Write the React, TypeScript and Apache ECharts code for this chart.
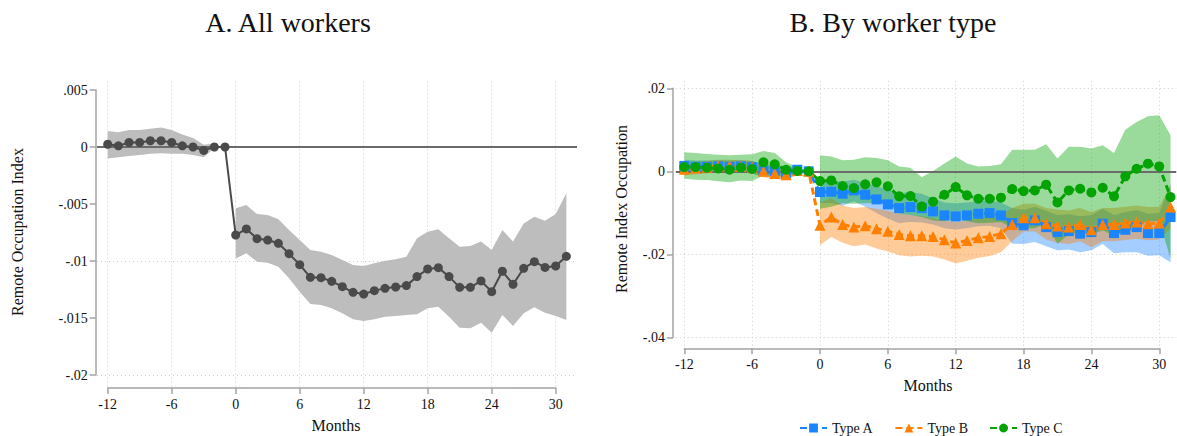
import React, { useEffect, useRef } from "react";
import * as echarts from "echarts";

// ---------- data ----------
const months = [-12, -11, -10, -9, -8, -7, -6, -5, -4, -3, -2, -1, 0, 1, 2, 3, 4, 5, 6, 7, 8, 9, 10, 11, 12, 13, 14, 15, 16, 17, 18, 19, 20, 21, 22, 23, 24, 25, 26, 27, 28, 29, 30, 31];

const xTicks = [-12, -6, 0, 6, 12, 18, 24, 30];
const yTicksA = [0.005, 0, -0.005, -0.01, -0.015, -0.02];
const yTicksB = [0.02, 0, -0.02, -0.04];

const allCoef = [0.00024, 0.0001, 0.0004, 0.0004, 0.00055, 0.00055, 0.0004, 0.0001, 0.0, -0.0003, 0.0, 0.0,
  -0.00772, -0.00719, -0.00804, -0.00816, -0.00845, -0.00936, -0.01032, -0.01143, -0.01146, -0.01178, -0.01225, -0.01275, -0.0129, -0.0126, -0.0124, -0.01228, -0.01216, -0.01137, -0.0107, -0.01059, -0.01137, -0.01231, -0.01231, -0.01175, -0.01269, -0.0109, -0.01205, -0.01064, -0.01006, -0.01056, -0.01044, -0.00959];
const allUpper = [0.0014, 0.0013, 0.0015, 0.0015, 0.0016, 0.0017, 0.0015, 0.0011, 0.0008, 0.0002, 0.0003, null,
  -0.00538, -0.00509, -0.00588, -0.00596, -0.00634, -0.00728, -0.00816, -0.00904, -0.00918, -0.00947, -0.00991, -0.01035, -0.01044, -0.0102, -0.00997, -0.00985, -0.00962, -0.00801, -0.00743, -0.00722, -0.00801, -0.00875, -0.00868, -0.0083, -0.00904, -0.00728, -0.0083, -0.0067, -0.00611, -0.00646, -0.00588, -0.00406];
const allLower = [-0.001, -0.0009, -0.0008, -0.0007, -0.0006, -0.00055, -0.0006, -0.0006, -0.0007, -0.0009, -0.0001, null,
  -0.00977, -0.00933, -0.01006, -0.01015, -0.0105, -0.01152, -0.01269, -0.01377, -0.01386, -0.01415, -0.01459, -0.01511, -0.01526, -0.01511, -0.01488, -0.01482, -0.01474, -0.01468, -0.01415, -0.01401, -0.01488, -0.01585, -0.0159, -0.01541, -0.01629, -0.01474, -0.0157, -0.01459, -0.01406, -0.01453, -0.01482, -0.01518];

const typeA = [0.0013, 0.0011, 0.0011, 0.0012, 0.0011, 0.0012, 0.001, 0.0002, 0.0, -0.0005, 0.0004, 0,
  -0.00498, -0.0049, -0.00538, -0.00458, -0.00562, -0.00675, -0.00795, -0.00884, -0.0086, -0.00884, -0.00964, -0.0106, -0.01084, -0.0106, -0.0102, -0.01004, -0.0106, -0.01245, -0.013, -0.0118, -0.01342, -0.01462, -0.01438, -0.015, -0.01462, -0.0126, -0.01486, -0.01406, -0.01342, -0.01486, -0.01486, -0.011];
const typeAUpper = [0.0028, 0.0026, 0.0026, 0.0027, 0.0026, 0.0027, 0.0025, 0.0017, 0.0015, 0.001, 0.0015, null,
  -0.0022, -0.0022, -0.0025, -0.002, -0.0028, -0.0035, -0.0045, -0.0052, -0.005, -0.0054, -0.0065, -0.0075, -0.0077, -0.0075, -0.0072, -0.007, -0.0075, -0.0088, -0.0093, -0.0085, -0.0095, -0.0105, -0.0103, -0.0108, -0.0105, -0.009, -0.0105, -0.0098, -0.0093, -0.0102, -0.01, -0.003];
const typeALower = [-0.0002, -0.0004, -0.0004, -0.0003, -0.0004, -0.0003, -0.0005, -0.0013, -0.0015, -0.002, -0.0007, null,
  -0.0077, -0.0076, -0.0083, -0.0072, -0.0085, -0.01, -0.0114, -0.0125, -0.0122, -0.0123, -0.0128, -0.0137, -0.014, -0.0137, -0.0132, -0.0131, -0.0137, -0.0174, -0.0175, -0.017, -0.018, -0.019, -0.0188, -0.0195, -0.019, -0.0175, -0.0197, -0.0195, -0.0195, -0.0203, -0.0202, -0.0219];

const typeB = [0.0005, 0.0008, 0.001, 0.0013, 0.0013, 0.0012, 0.001, 0.0, -0.0005, -0.0008, 0.0002, 0,
  -0.013, -0.011, -0.0128, -0.0134, -0.0131, -0.0138, -0.0144, -0.0152, -0.0155, -0.0155, -0.0157, -0.01646, -0.01727, -0.01663, -0.016, -0.0157, -0.015, -0.01277, -0.01116, -0.01116, -0.0126, -0.01318, -0.01342, -0.01277, -0.01406, -0.01277, -0.01277, -0.01245, -0.0122, -0.0126, -0.01245, -0.0086];
const typeBUpper = [0.002, 0.0023, 0.0025, 0.0028, 0.0028, 0.0027, 0.0025, 0.0014, 0.0008, 0.0005, 0.0012, null,
  -0.0075, -0.0065, -0.0082, -0.0088, -0.0086, -0.009, -0.0095, -0.0102, -0.0105, -0.0108, -0.0112, -0.0118, -0.0122, -0.0118, -0.0113, -0.011, -0.0105, -0.0088, -0.0078, -0.0078, -0.0088, -0.0092, -0.0094, -0.0088, -0.0098, -0.0088, -0.0088, -0.0085, -0.0082, -0.0086, -0.0085, -0.0035];
const typeBLower = [-0.001, -0.0007, -0.0005, -0.0002, -0.0002, -0.0003, -0.0005, -0.0014, -0.0018, -0.0021, -0.0008, null,
  -0.0178, -0.0158, -0.0172, -0.018, -0.0176, -0.0186, -0.0193, -0.0202, -0.0205, -0.0203, -0.0205, -0.0212, -0.0222, -0.0215, -0.0208, -0.0204, -0.0195, -0.0168, -0.0145, -0.0145, -0.0164, -0.0172, -0.0175, -0.0168, -0.0183, -0.0168, -0.0168, -0.0165, -0.0162, -0.0166, -0.0164, -0.0137];

const typeC = [0.00104, 0.00104, 0.0009, 0.00072, 0.0004, 0.0009, 0.00056, 0.00217, 0.00169, 0.0004, 0.0001, 0,
  -0.00233, -0.00217, -0.00353, -0.00402, -0.00313, -0.00265, -0.00361, -0.00602, -0.00594, -0.00843, -0.0073, -0.00562, -0.00378, -0.00578, -0.00659, -0.00659, -0.00634, -0.00426, -0.00474, -0.00458, -0.00321, -0.00747, -0.00458, -0.00418, -0.00506, -0.00394, -0.00602, -0.0012, 0.00064, 0.00185, 0.0012, -0.0062];
const typeCUpper = [0.0046, 0.0044, 0.0042, 0.004, 0.0039, 0.004, 0.0041, 0.0049, 0.0044, 0.0022, 0.001, null,
  0.0039, 0.0036, 0.0027, 0.0028, 0.0034, 0.0032, 0.0027, 0.0012, 0.0009, -0.0014, 0.0001, 0.0019, 0.0036, 0.0019, 0.0012, 0.0013, 0.0017, 0.0052, 0.0052, 0.0052, 0.0065, 0.0031, 0.0059, 0.0059, 0.0055, 0.0063, 0.0044, 0.01, 0.0119, 0.0133, 0.0135, 0.0087];
const typeCLower = [-0.0018, -0.002, -0.0021, -0.0024, -0.0026, -0.0022, -0.0023, -0.001, -0.0009, -0.0012, -0.0006, null,
  -0.009, -0.0085, -0.0077, -0.0078, -0.0077, -0.0076, -0.0078, -0.0102, -0.0105, -0.011, -0.0118, -0.012, -0.0115, -0.012, -0.0125, -0.0124, -0.0122, -0.0135, -0.0137, -0.0137, -0.0125, -0.0174, -0.0152, -0.0148, -0.0152, -0.0142, -0.0155, -0.0145, -0.013, -0.012, -0.012, -0.021];

const seriesNames = ["Type A", "Type B", "Type C"];

// ---------- styles ----------
const FONT = "Liberation Serif";
const TEXT = "#111";
const AXIS = "#a3a3a3";
const GRID = "#cfcfcf";
const ZERO = "#6b6b6b";
const BLUE = "#1a85ff";
const ORANGE = "#ff8000";
const GREEN = "#03a303";

function fmt(v: number) {
  const s = String(Math.round(v * 10000) / 10000);
  return s.replace(/^(-?)0\./, "$1.");
}

function bandSeries(name: string, xi: number, upper: (number | null)[], lower: (number | null)[], fill: string) {
  const segs: number[][] = [];
  let cur: number[] | null = null;
  upper.forEach((u, i) => {
    if (u == null || lower[i] == null) {
      cur = null;
    } else {
      if (!cur) {
        cur = [];
        segs.push(cur);
      }
      cur.push(i);
    }
  });
  return {
    name,
    type: "custom",
    xAxisIndex: xi,
    yAxisIndex: xi,
    z: 2,
    silent: true,
    data: [[0, 0]],
    renderItem: (params: any, api: any) => {
      if (params.dataIndex !== 0) return null;
      return {
        type: "group",
        children: segs.map((idx) => ({
          type: "polygon",
          shape: {
            points: [
              ...idx.map((i) => api.coord([months[i], upper[i]])),
              ...idx.slice().reverse().map((i) => api.coord([months[i], lower[i]])),
            ],
          },
          style: { fill, stroke: "none" },
        })),
      };
    },
  };
}

function gridSeries(name: string, xi: number, yTicks: number[]) {
  return {
    name,
    type: "line",
    xAxisIndex: xi,
    yAxisIndex: xi,
    z: 1,
    silent: true,
    data: [[0, 0]],
    showSymbol: false,
    lineStyle: { opacity: 0 },
    markLine: {
      z: 1,
      silent: true,
      symbol: "none",
      label: { show: false },
      lineStyle: { color: GRID, type: [1, 3], width: 1 },
      data: [...xTicks.map((v) => ({ xAxis: v })), ...yTicks.map((v) => ({ yAxis: v }))],
    },
  };
}

function zeroSeries(name: string, xi: number) {
  return {
    name,
    type: "line",
    xAxisIndex: xi,
    yAxisIndex: xi,
    z: 3,
    silent: true,
    data: [[0, 0]],
    showSymbol: false,
    lineStyle: { opacity: 0 },
    markLine: {
      z: 3,
      silent: true,
      symbol: "none",
      label: { show: false },
      lineStyle: { color: ZERO, type: "solid", width: 2 },
      data: [{ yAxis: 0 }],
    },
  };
}

function hiddenAxis(gi: number, min: number, max: number) {
  return {
    type: "value",
    gridIndex: gi,
    min,
    max,
    show: false,
    splitLine: { show: false },
  };
}

function shownX(gi: number, offset: number) {
  return {
    type: "value",
    gridIndex: gi,
    min: -12,
    max: 30,
    interval: 6,
    position: "bottom",
    offset,
    axisLine: { show: true, onZero: false, lineStyle: { color: AXIS, width: 1.5 } },
    axisTick: { show: true, length: 6, lineStyle: { color: AXIS, width: 1.5 } },
    axisLabel: { color: TEXT, fontFamily: FONT, fontSize: 14, margin: 9, formatter: (v: number) => String(v) },
    splitLine: { show: false },
  };
}

function shownY(gi: number, offset: number, min: number, max: number, interval: number) {
  return {
    type: "value",
    gridIndex: gi,
    min,
    max,
    interval,
    position: "left",
    offset,
    axisLine: { show: true, onZero: false, lineStyle: { color: AXIS, width: 1.5 } },
    axisTick: { show: true, length: 6, lineStyle: { color: AXIS, width: 1.5 } },
    axisLabel: { color: TEXT, fontFamily: FONT, fontSize: 14, margin: 8, formatter: (v: number) => fmt(v) },
    splitLine: { show: false },
  };
}

function pointSeries(name: string, vals: number[], color: string, symbol: string, size: number) {
  return {
    name,
    type: "line",
    xAxisIndex: 2,
    yAxisIndex: 2,
    z: 4,
    data: months.map((m, i) => [m, vals[i]]),
    symbol,
    symbolSize: size,
    showSymbol: true,
    itemStyle: { color, borderWidth: 0 },
    lineStyle: { color, width: 3, type: [7, 4] },
  };
}

export default function App() {
  const ref = useRef<HTMLDivElement>(null);
  useEffect(() => {
    if (!ref.current) return;
    const chart = echarts.init(ref.current, null, { renderer: "svg" });
    const option: any = {
      animation: false,
      textStyle: { fontFamily: FONT },
      grid: [
        { left: 97.03, top: 78.6, width: 480, height: 307.8 },
        { left: 107.7, top: 90, width: 448, height: 285 },
        { left: 675.8, top: 80, width: 500.4, height: 265.8 },
        { left: 684.3, top: 88.3, width: 475, height: 249.2 },
      ],
      xAxis: [
        hiddenAxis(0, -13, 32),
        shownX(1, 13),
        hiddenAxis(2, -12.75, 31.5),
        shownX(3, 10.8),
      ],
      yAxis: [
        hiddenAxis(0, -0.021, 0.006),
        shownY(1, 12, -0.02, 0.005, 0.005),
        hiddenAxis(2, -0.042, 0.022),
        shownY(3, 11.3, -0.04, 0.02, 0.02),
      ],
      legend: {
        data: seriesNames,
        left: 794,
        top: 416,
        itemWidth: 27,
        itemHeight: 11,
        itemGap: 21,
        textStyle: { color: TEXT, fontFamily: FONT, fontSize: 14 },
        selectedMode: false,
      },
      graphic: [
        { type: "text", x: 288, y: 22, style: { text: "A. All workers", font: `28px "${FONT}"`, fill: TEXT, align: "center", verticalAlign: "middle" } },
        { type: "text", x: 893, y: 22, style: { text: "B. By worker type", font: `28px "${FONT}"`, fill: TEXT, align: "center", verticalAlign: "middle" } },
        { type: "text", x: 336, y: 425, style: { text: "Months", font: `16px "${FONT}"`, fill: TEXT, align: "center", verticalAlign: "middle" } },
        { type: "text", x: 928, y: 385, style: { text: "Months", font: `16px "${FONT}"`, fill: TEXT, align: "center", verticalAlign: "middle" } },
        { type: "text", x: 17, y: 232, rotation: Math.PI / 2, style: { text: "Remote Occupation Index", font: `16px "${FONT}"`, fill: TEXT, align: "center", verticalAlign: "middle" } },
        { type: "text", x: 621, y: 209, rotation: Math.PI / 2, style: { text: "Remote Index Occupation", font: `16px "${FONT}"`, fill: TEXT, align: "center", verticalAlign: "middle" } },
      ],
      series: [
        gridSeries("gridA", 0, yTicksA),
        bandSeries("bandAll", 0, allUpper, allLower, "#bdbdbd"),
        zeroSeries("zeroA", 0),
        {
          name: "All workers",
          type: "line",
          xAxisIndex: 0,
          yAxisIndex: 0,
          z: 4,
          data: months.map((m, i) => [m, allCoef[i]]),
          symbol: "circle",
          symbolSize: 9,
          itemStyle: { color: "#4a4a4a", borderWidth: 0 },
          lineStyle: { color: "#4a4a4a", width: 2 },
        },
        gridSeries("gridB", 2, yTicksB),
        bandSeries("bandA", 2, typeAUpper, typeALower, "rgba(26,133,255,0.4)"),
        bandSeries("bandB", 2, typeBUpper, typeBLower, "rgba(255,128,0,0.4)"),
        bandSeries("bandC", 2, typeCUpper, typeCLower, "rgba(3,163,3,0.4)"),
        zeroSeries("zeroB", 2),
        pointSeries(seriesNames[0], typeA, BLUE, "rect", 10),
        pointSeries(seriesNames[1], typeB, ORANGE, "triangle", 11),
        pointSeries(seriesNames[2], typeC, GREEN, "circle", 10),
      ],
    };
    chart.setOption(option);
    return () => chart.dispose();
  }, []);
  return (
    <div
      ref={ref}
      style={{ position: "fixed", left: 0, top: 0, width: 1177, height: 436, background: "#fff" }}
    />
  );
}
